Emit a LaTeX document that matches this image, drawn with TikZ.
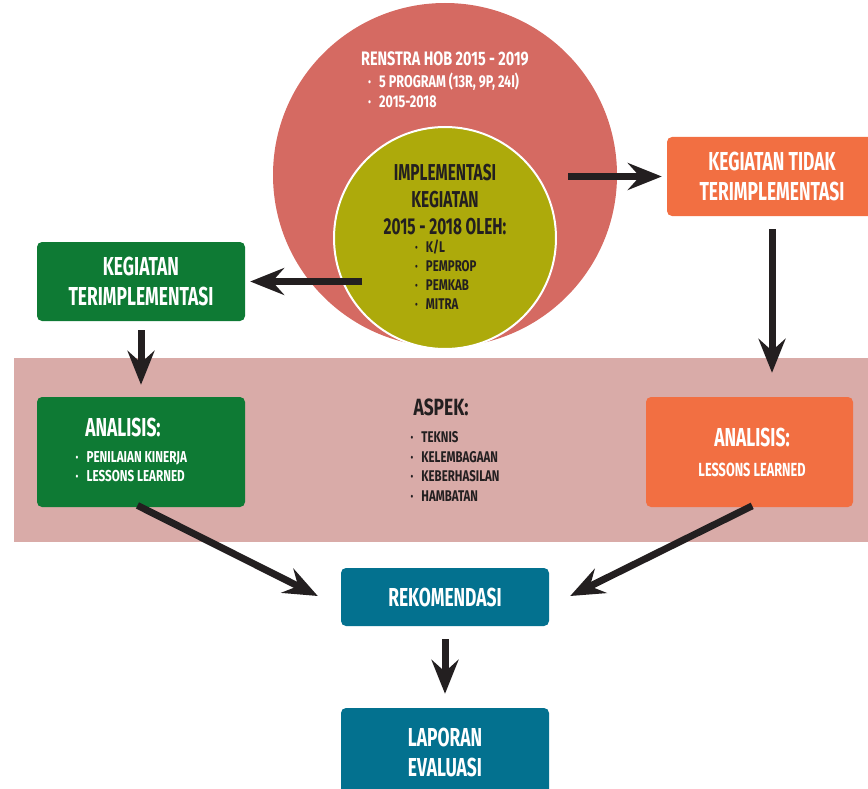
\documentclass[tikz,border=0pt]{standalone}
\usepackage{fontspec}
\newfontfamily\cond{Fira Sans}[FakeStretch=0.67]
\newfontfamily\condw{Fira Sans}[FakeStretch=0.74]
\usetikzlibrary{arrows.meta,calc}
\definecolor{redc}{RGB}{213,106,98}
\definecolor{olivec}{RGB}{173,170,11}
\definecolor{greenc}{RGB}{14,122,52}
\definecolor{orangec}{RGB}{242,111,66}
\definecolor{tealc}{RGB}{3,113,143}
\definecolor{bandc}{RGB}{217,171,168}
\definecolor{inkc}{RGB}{35,31,32}
\newcommand{\fsz}[2]{\cond\bfseries\fontsize{#1}{#2}\selectfont}
\newcommand{\fsw}[2]{\condw\bfseries\fontsize{#1}{#2}\selectfont}
\newcommand{\bul}{\textperiodcentered}
\begin{document}
\begin{tikzpicture}[x=1pt,y=-1pt,
  box/.style={rounded corners=5pt, minimum width=208pt, inner sep=0pt,
    text=white, align=center, font=\fsz{26}{30}},
  wt/.style={text=white, inner sep=0pt},
  dk/.style={text=inkc, inner sep=0pt},
  arr/.style={draw=inkc, line width=7pt,
    -{Stealth[length=34pt,width=27pt,inset=12pt]}}]
\useasboundingbox (0,0) rectangle (868,789);

% band behind the analysis row
\fill[bandc] (14,358) rectangle (880,542);

% nested circles
\node[circle, fill=redc, minimum size=344pt, inner sep=0pt] (renstra) at (445,175) {};
\node[circle, fill=olivec, draw=white, line width=2pt, minimum size=222pt, inner sep=0pt] (impl) at (445,238) {};

\node[wt, font=\fsw{19.5}{22}, anchor=base] (rtitle) at (445,65.5) {RENSTRA HOB 2015 - 2019};
\node[wt, font=\fsw{17}{20}, anchor=base west] (rlist) at (368,87.5)
  {\begin{tabular}[t]{@{}l@{\hspace{8pt}}l@{}}\bul & 5 PROGRAM (13R, 9P, 24I)\\ \bul & 2015-2018\end{tabular}};

\node[dk, font=\fsz{23}{27}, anchor=base] (i1) at (445,180.5) {IMPLEMENTASI};
\node[dk, font=\fsz{23}{27}, anchor=base] (i2) at (445,207.5) {KEGIATAN};
\node[dk, font=\fsz{23}{27}, anchor=base] (i3) at (445,234.5) {2015 - 2018 OLEH:};
\node[dk, font=\fsw{15.5}{19}, anchor=base west] (ilist) at (415,252)
  {\begin{tabular}[t]{@{}l@{\hspace{8pt}}l@{}}\bul & K/L\\ \bul & PEMPROP\\ \bul & PEMKAB\\ \bul & MITRA\end{tabular}};

% boxes
\node[box, fill=greenc, minimum height=79pt] (kt) at (141,281.5) {KEGIATAN\\TERIMPLEMENTASI};
\node[box, fill=greenc, minimum height=110pt] (ag) at (141,452) {};
\node[box, fill=orangec, minimum width=210pt, minimum height=79pt] (ktt) at (772,176.5) {KEGIATAN TIDAK\\TERIMPLEMENTASI};
\node[box, fill=orangec, minimum width=207pt, minimum height=110pt] (oa) at (749.5,452) {};
\node[box, fill=tealc, minimum height=58pt] (rek) at (445,597) {REKOMENDASI};
\node[box, fill=tealc, minimum height=88pt] (lap) at (445,752) {LAPORAN\\EVALUASI};

% box contents
\node[wt, font=\fsz{26}{30}, anchor=base] (agt) at (123,436) {ANALISIS:};
\node[wt, font=\fsw{15.8}{19}, anchor=base west] (aglist) at (75.5,462)
  {\begin{tabular}[t]{@{}l@{\hspace{8pt}}l@{}}\bul & PENILAIAN KINERJA\\ \bul & LESSONS LEARNED\end{tabular}};
\node[wt, font=\fsz{26}{30}, anchor=base] (oat) at (752,446) {ANALISIS:};
\node[wt, font=\fsz{19}{22}, anchor=base] (oal) at (752,476.5) {LESSONS LEARNED};

% aspects
\node[dk, font=\fsw{23.5}{27}, anchor=base] (aspek) at (441,415.5) {ASPEK:};
\node[dk, font=\fsw{15.5}{19.7}, anchor=base west] (alist) at (410.5,442.5)
  {\begin{tabular}[t]{@{}l@{\hspace{8pt}}l@{}}\bul & TEKNIS\\ \bul & KELEMBAGAAN\\ \bul & KEBERHASILAN\\ \bul & HAMBATAN\end{tabular}};

% connectors
\coordinate (lstart) at (362,281.5);
\coordinate (rstart) at (568,176.5);
\coordinate (ltip) at ($(rek.west)+(-23,-1)$);
\coordinate (rtip) at ($(rek.east)+(21,-1)$);
\draw[arr, shorten >=5pt] (lstart) -- (kt.east);
\draw[arr, shorten >=5pt] (rstart) -- (ktt.west);
\draw[arr, shorten <=9pt, shorten >=12pt] (kt.south) -- (ag.north);
\draw[arr, shorten <=13pt, shorten >=24pt] (ktt.south) -- (ktt.south |- oa.north);
\draw[arr, shorten <=-4pt] (ag.south) -- (ltip);
\draw[arr, shorten <=-3pt] (oa.south) -- (rtip);
\draw[arr, shorten <=13pt, shorten >=14pt] (rek.south) -- (lap.north);
\end{tikzpicture}
\end{document}
